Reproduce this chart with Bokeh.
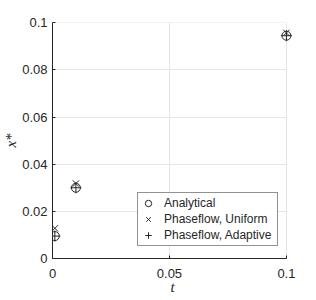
from bokeh.plotting import figure
from bokeh.models import Range1d, FixedTicker, Legend, LegendItem
from bokeh.embed import file_html
from bokeh.resources import INLINE

# data
t_vals = [0.001, 0.01, 0.1]
analytical = [0.0095, 0.0300, 0.0945]
uniform = [0.0128, 0.0318, 0.0957]
adaptive = [0.0095, 0.0300, 0.0945]
x_ticks = [0, 0.05, 0.1]
y_ticks = [0, 0.02, 0.04, 0.06, 0.08, 0.1]
series_names = ["Analytical", "Phaseflow, Uniform", "Phaseflow, Adaptive"]

ink = "#262626"
grid = "#e6e6e6"

# small right padding so that markers at t = 0.1 are not clipped
p = figure(width=316, height=300, output_backend="svg", toolbar_location=None,
           x_range=Range1d(0, 0.1026), y_range=Range1d(0, 0.1001),
           min_border_left=52, min_border_right=24, min_border_top=22, min_border_bottom=42)
p.outline_line_color = None
p.background_fill_color = "white"
p.border_fill_color = "white"

for ax, ticks in ((p.xaxis[0], x_ticks), (p.yaxis[0], y_ticks)):
    ax.ticker = FixedTicker(ticks=ticks)
    ax.bounds = (0, 0.1)
    ax.axis_line_color = ink
    ax.major_tick_line_color = ink
    ax.major_tick_in = 3
    ax.major_tick_out = 0
    ax.minor_tick_line_color = None
    ax.major_label_text_font = "Liberation Sans"
    ax.major_label_text_font_size = "13px"
    ax.major_label_text_color = ink
    ax.axis_label_text_font = "Liberation Serif"
    ax.axis_label_text_font_style = "italic"
    ax.axis_label_text_font_size = "15px"
    ax.axis_label_text_color = ink

p.yaxis.axis_label_standoff = 0
p.yaxis.major_label_standoff = 5
p.xaxis.axis_label_standoff = -2
p.xaxis.major_label_standoff = 10

p.xaxis.axis_label = "t"
p.yaxis.axis_label = "x*"
p.xaxis.major_label_overrides = {0: "0", 0.05: "0.05", 0.1: "0.1"}
p.yaxis.major_label_overrides = {0: "0", 0.02: "0.02", 0.04: "0.04", 0.06: "0.06", 0.08: "0.08", 0.1: "0.1"}

p.xgrid.ticker = FixedTicker(ticks=x_ticks)
p.ygrid.ticker = FixedTicker(ticks=y_ticks)
p.grid.grid_line_color = grid
p.grid.grid_line_width = 1
for g in p.grid:
    if "cross_bounds" in g.properties():
        g.cross_bounds = (0, 0.1)

r1 = p.scatter(t_vals, analytical, marker="circle", size=9, fill_color=None, line_color=ink, line_width=1)
r2 = p.scatter(t_vals, uniform, marker="x", size=9, line_color=ink, line_width=1)
r3 = p.scatter(t_vals, adaptive, marker="cross", size=11, line_color=ink, line_width=1)

legend = Legend(items=[LegendItem(label=series_names[0], renderers=[r1]),
                       LegendItem(label=series_names[1], renderers=[r2]),
                       LegendItem(label=series_names[2], renderers=[r3])],
                location=(85, 12), padding=2, spacing=0, glyph_width=16, glyph_height=16,
                label_height=16, label_standoff=8, label_width=111, margin=0,
                label_text_font="Liberation Sans", label_text_font_size="12px",
                label_text_color=ink, border_line_color=ink, border_line_width=1,
                background_fill_color="white", background_fill_alpha=1)
p.add_layout(legend, "center")

open("out.html", "w").write(file_html(p, INLINE))
